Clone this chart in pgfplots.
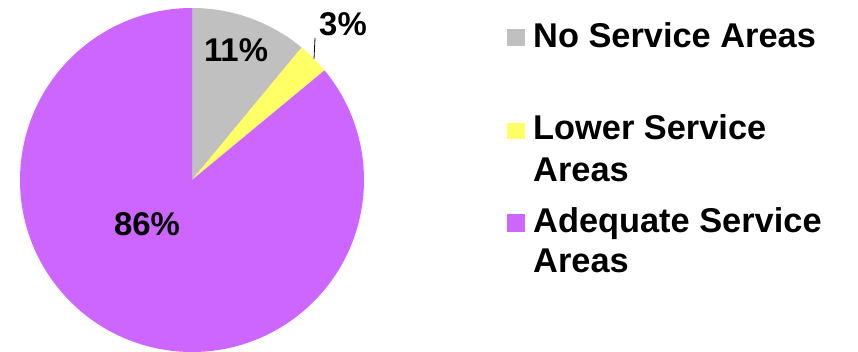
\documentclass[border=0pt]{standalone}
\usepackage{pgfplots}
\pgfplotsset{compat=1.18}
\usepackage{pgfplotstable}
\usepackage{fontspec}
\setmainfont{Liberation Sans}
\definecolor{cgray}{HTML}{C0C0C0}
\definecolor{cyellow}{HTML}{FFFF66}
\definecolor{cpurple}{HTML}{CC66FF}
\pgfplotstableread{
label value
NoService 11
LowerService 3
AdequateService 86
}\piedata
\begin{document}
\begin{tikzpicture}
\useasboundingbox (0,0) rectangle (858bp,352bp);
\pgfplotstablegetelem{0}{value}\of\piedata \let\va\pgfplotsretval
\pgfplotstablegetelem{1}{value}\of\piedata \let\vb\pgfplotsretval
\pgfplotstablegetelem{2}{value}\of\piedata \let\vc\pgfplotsretval
\pgfmathsetmacro\aA{90}
\pgfmathsetmacro\aB{\aA-3.6*\va}
\pgfmathsetmacro\aC{\aB-3.6*\vb}
\pgfmathsetmacro\aD{\aC-3.6*\vc}
\begin{axis}[
  anchor=south west, at={(0,0)},
  scale only axis, width=858bp, height=352bp,
  xmin=0, xmax=858, ymin=0, ymax=352,
  hide axis, clip=false,
]
\addplot[draw=none] coordinates {(0,0) (858,352)};
\fill[cgray] (axis cs:192,172) -- ++(\aA:172bp) arc[start angle=\aA, end angle=\aB, radius=172bp] -- cycle;
\fill[cyellow] (axis cs:192,172) -- ++(\aB:172bp) arc[start angle=\aB, end angle=\aC, radius=172bp] -- cycle;
\fill[cpurple] (axis cs:192,172) -- ++(\aC:172bp) arc[start angle=\aC, end angle=\aD, radius=172bp] -- cycle;
\draw[black, line width=0.8bp] (axis cs:315,314) -- (axis cs:314,293);
\begin{scope}[every node/.style={font=\fontsize{33}{38}\selectfont\bfseries, inner sep=0pt}]
\node at (axis cs:236,302) {11\%};
\node at (axis cs:343,328) {3\%};
\node at (axis cs:147,127.5) {86\%};
\end{scope}
\begin{scope}[every node/.style={font=\fontsize{34.5}{38}\selectfont\bfseries, inner sep=0pt}]
\node[anchor=base west] at (axis cs:533,304) {No Service Areas};
\node[anchor=base west] at (axis cs:533,212) {Lower Service};
\node[anchor=base west] at (axis cs:533,170) {Areas};
\node[anchor=base west] at (axis cs:533,119) {Adequate Service};
\node[anchor=base west] at (axis cs:533,79) {Areas};
\end{scope}
\fill[cgray] (axis cs:507,306) rectangle (axis cs:525,323);
\fill[cyellow] (axis cs:507,213) rectangle (axis cs:525,229);
\fill[cpurple] (axis cs:507,120) rectangle (axis cs:525,138);
\end{axis}
\end{tikzpicture}
\end{document}
